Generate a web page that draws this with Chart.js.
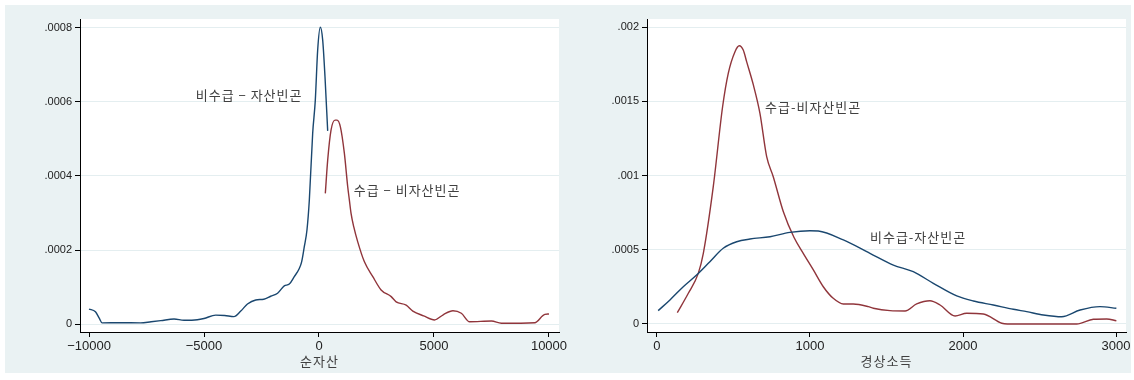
<!DOCTYPE html>
<html>
<head>
<meta charset="utf-8">
<script src="https://cdn.jsdelivr.net/npm/chart.js@4"></script>
<style>
  body { margin: 0; background: #fff; width: 1134px; height: 380px; overflow: hidden; }
  #bg { position: absolute; left: 5px; top: 5px; width: 1126px; height: 368px; background: #eaf2f3; }
  canvas { position: absolute; top: 0; }
  #left { left: 0; }
  #right { left: 567px; }
</style>
</head>
<body>
<div id="bg"></div>
<canvas id="left" width="567" height="380"></canvas>
<canvas id="right" width="567" height="380"></canvas>
<script>
// Left panel: 순자산 densities
const leftBlueX = [-10000, -9720, -9550, -9430, -8630, -7760, -7300, -6880, -6300, -5870, -5290, -5000, -4490, -4100, -3700, -3400, -3110, -2750, -2400, -2100, -1800, -1510, -1290, -1075, -857, -755, -639, -523, -420, -275, -160, -58, 58, 160, 261, 378];
const leftBlueY = [0.0000405, 0.000033, 0.000015, 0.000003, 0.0000035, 0.000003, 0.000006, 0.000009, 0.0000135, 0.00001, 0.0000115, 0.000015, 0.000024, 0.000023, 0.00002, 0.000035, 0.000054, 0.000065, 0.000067, 0.000075, 0.000083, 0.000103, 0.000108, 0.000128, 0.00015, 0.000168, 0.000209, 0.000254, 0.000335, 0.000515, 0.000605, 0.00074, 0.000802, 0.000768, 0.000668, 0.000522];
const leftRedX = [275, 378, 523, 697, 784, 930, 1104, 1249, 1321, 1394, 1510, 1685, 1975, 2340, 2700, 3140, 3355, 3790, 4080, 4550, 5025, 5400, 5825, 6190, 6550, 7500, 7930, 9380, 9820, 10000];
const leftRedY = [0.000353, 0.000443, 0.000524, 0.000551, 0.000551, 0.000533, 0.000461, 0.000371, 0.000335, 0.000299, 0.000263, 0.000222, 0.000168, 0.000128, 0.000092, 0.000074, 0.00006, 0.000051, 0.000035, 0.000022, 0.000011, 0.000025, 0.000036, 0.000029, 0.000006, 0.000008, 0.000002, 0.0000035, 0.000026, 0.000027];
const leftXTicks = [-10000, -5000, 0, 5000, 10000];
const leftXLabels = ['\u221210000', '\u22125000', '0', '5000', '10000'];
const leftYTicks = [0, 0.0002, 0.0004, 0.0006, 0.0008];
const leftYLabels = ['0', '.0002', '.0004', '.0006', '.0008'];
const leftNotes = [
  { text: '비수급 \u2212 자산빈곤', x: -5360, y: 0.000619 },
  { text: '수급 \u2212 비자산빈곤', x: 1510, y: 0.000362 }
];

// Right panel: 경상소득 densities
const rightBlueX = [8, 85, 172, 259, 346, 433, 521, 608, 739, 869, 1000, 1054, 1218, 1392, 1545, 1675, 1806, 1959, 2068, 2198, 2329, 2416, 2525, 2645, 2765, 2895, 3002];
const rightBlueY = [0.00009, 0.000162, 0.000251, 0.00033, 0.00042, 0.00051, 0.000554, 0.000572, 0.000588, 0.000617, 0.000628, 0.000626, 0.000566, 0.000476, 0.000397, 0.000352, 0.000274, 0.000189, 0.000155, 0.000128, 0.000099, 0.000083, 0.000061, 0.000049, 0.000094, 0.000117, 0.000106];
const rightRedX = [133, 205, 270, 303, 368, 429, 466, 510, 538, 564, 586, 630, 673, 717, 760, 826, 895, 956, 1022, 1087, 1152, 1218, 1283, 1381, 1414, 1523, 1621, 1697, 1784, 1850, 1948, 2024, 2133, 2253, 2290, 2743, 2852, 2939, 3002];
const rightRedY = [0.000076, 0.000207, 0.000341, 0.000476, 0.000925, 0.001463, 0.001688, 0.001834, 0.001874, 0.001845, 0.001767, 0.00161, 0.001419, 0.001127, 0.000992, 0.000756, 0.000584, 0.000476, 0.000364, 0.000251, 0.000173, 0.000135, 0.000135, 0.000117, 0.000106, 0.00009, 0.000088, 0.000135, 0.000157, 0.000128, 0.000054, 0.000072, 0.000067, 0.000005, 0, 0, 0.000032, 0.000034, 0.000022];
const rightXTicks = [0, 1000, 2000, 3000];
const rightXLabels = ['0', '1000', '2000', '3000'];
const rightYTicks = [0, 0.0005, 0.001, 0.0015, 0.002];
const rightYLabels = ['0', '.0005', '.001', '.0015', '.002'];
const rightNotes = [
  { text: '수급-비자산빈곤', x: 706, y: 0.001461 },
  { text: '비수급-자산빈곤', x: 1392, y: 0.000586 }
];

const BLUE = '#1a476f';
const RED = '#90353b';
const KO_FONT = "'Noto Sans CJK KR', 'Noto Sans', sans-serif";

function toPoints(xs, ys) {
  return xs.map((x, i) => ({ x: x, y: ys[i] }));
}

// white plot region, text notes and the x title (drawn with a bit of letter spacing)
function panelPlugin(notes, title) {
  return {
    id: 'panel',
    beforeDraw(chart) {
      const a = chart.chartArea;
      const ctx = chart.ctx;
      ctx.save();
      ctx.fillStyle = '#fff';
      ctx.fillRect(a.left, a.top, a.right - a.left, a.bottom - a.top);
      ctx.restore();
    },
    afterDatasetsDraw(chart) {
      const ctx = chart.ctx;
      const a = chart.chartArea;
      ctx.save();
      ctx.font = '13px ' + KO_FONT;
      ctx.fillStyle = '#404040';
      ctx.letterSpacing = '1px';
      ctx.textAlign = 'left';
      ctx.textBaseline = 'middle';
      notes.forEach(n => {
        ctx.fillText(n.text, chart.scales.x.getPixelForValue(n.x), chart.scales.y.getPixelForValue(n.y));
      });
      ctx.textAlign = 'center';
      ctx.fillText(title, (a.left + a.right) / 2, 361);
      ctx.restore();
    }
  };
}

function makePanel(id, blue, red, xr, yr, xTicks, xLabels, yTicks, yLabels, title, notes) {
  new Chart(document.getElementById(id), {
    type: 'scatter',
    data: {
      datasets: [
        { data: blue, borderColor: BLUE, borderWidth: 1.4, showLine: true, pointRadius: 0, cubicInterpolationMode: 'monotone' },
        { data: red, borderColor: RED, borderWidth: 1.4, showLine: true, pointRadius: 0, cubicInterpolationMode: 'monotone' }
      ]
    },
    options: {
      responsive: false,
      animation: false,
      events: [],
      layout: { padding: { left: 0, top: 19, right: 8, bottom: 0 } },
      plugins: { legend: { display: false }, tooltip: { enabled: false } },
      scales: {
        x: {
          type: 'linear',
          min: xr[0], max: xr[1],
          afterBuildTicks: s => { s.ticks = xTicks.map(v => ({ value: v })); },
          afterFit: s => { s.height = 48; s.paddingLeft = 0; s.paddingRight = 0; },
          ticks: {
            callback: (v) => xLabels[xTicks.indexOf(v)],
            font: { family: "'Liberation Sans', Arial, sans-serif", size: 13 },
            color: '#222', padding: 2, maxRotation: 0
          },
          grid: { drawOnChartArea: false, tickLength: 5, tickColor: '#000' },
          border: { display: true, color: '#000', width: 1 }
        },
        y: {
          type: 'linear',
          min: yr[0], max: yr[1],
          afterBuildTicks: s => { s.ticks = yTicks.map(v => ({ value: v })); },
          afterFit: s => { s.width = 80; s.paddingTop = 0; s.paddingBottom = 0; },
          ticks: {
            callback: (v) => yLabels[yTicks.indexOf(v)],
            font: { family: "'Liberation Sans', Arial, sans-serif", size: 11 },
            color: '#222', padding: 3
          },
          grid: { color: '#e4eef0', lineWidth: 1, tickLength: 5, tickColor: '#000' },
          border: { display: true, color: '#000', width: 1 }
        }
      }
    },
    plugins: [panelPlugin(notes, title)]
  });
}

makePanel('left', toPoints(leftBlueX, leftBlueY), toPoints(leftRedX, leftRedY),
  [-10392, 10436], [-0.0000216, 0.0008243],
  leftXTicks, leftXLabels, leftYTicks, leftYLabels, '순자산', leftNotes);

makePanel('right', toPoints(rightBlueX, rightBlueY), toPoints(rightRedX, rightRedY),
  [-65, 3065], [-0.0000539, 0.002054],
  rightXTicks, rightXLabels, rightYTicks, rightYLabels, '경상소득', rightNotes);
</script>
</body>
</html>
